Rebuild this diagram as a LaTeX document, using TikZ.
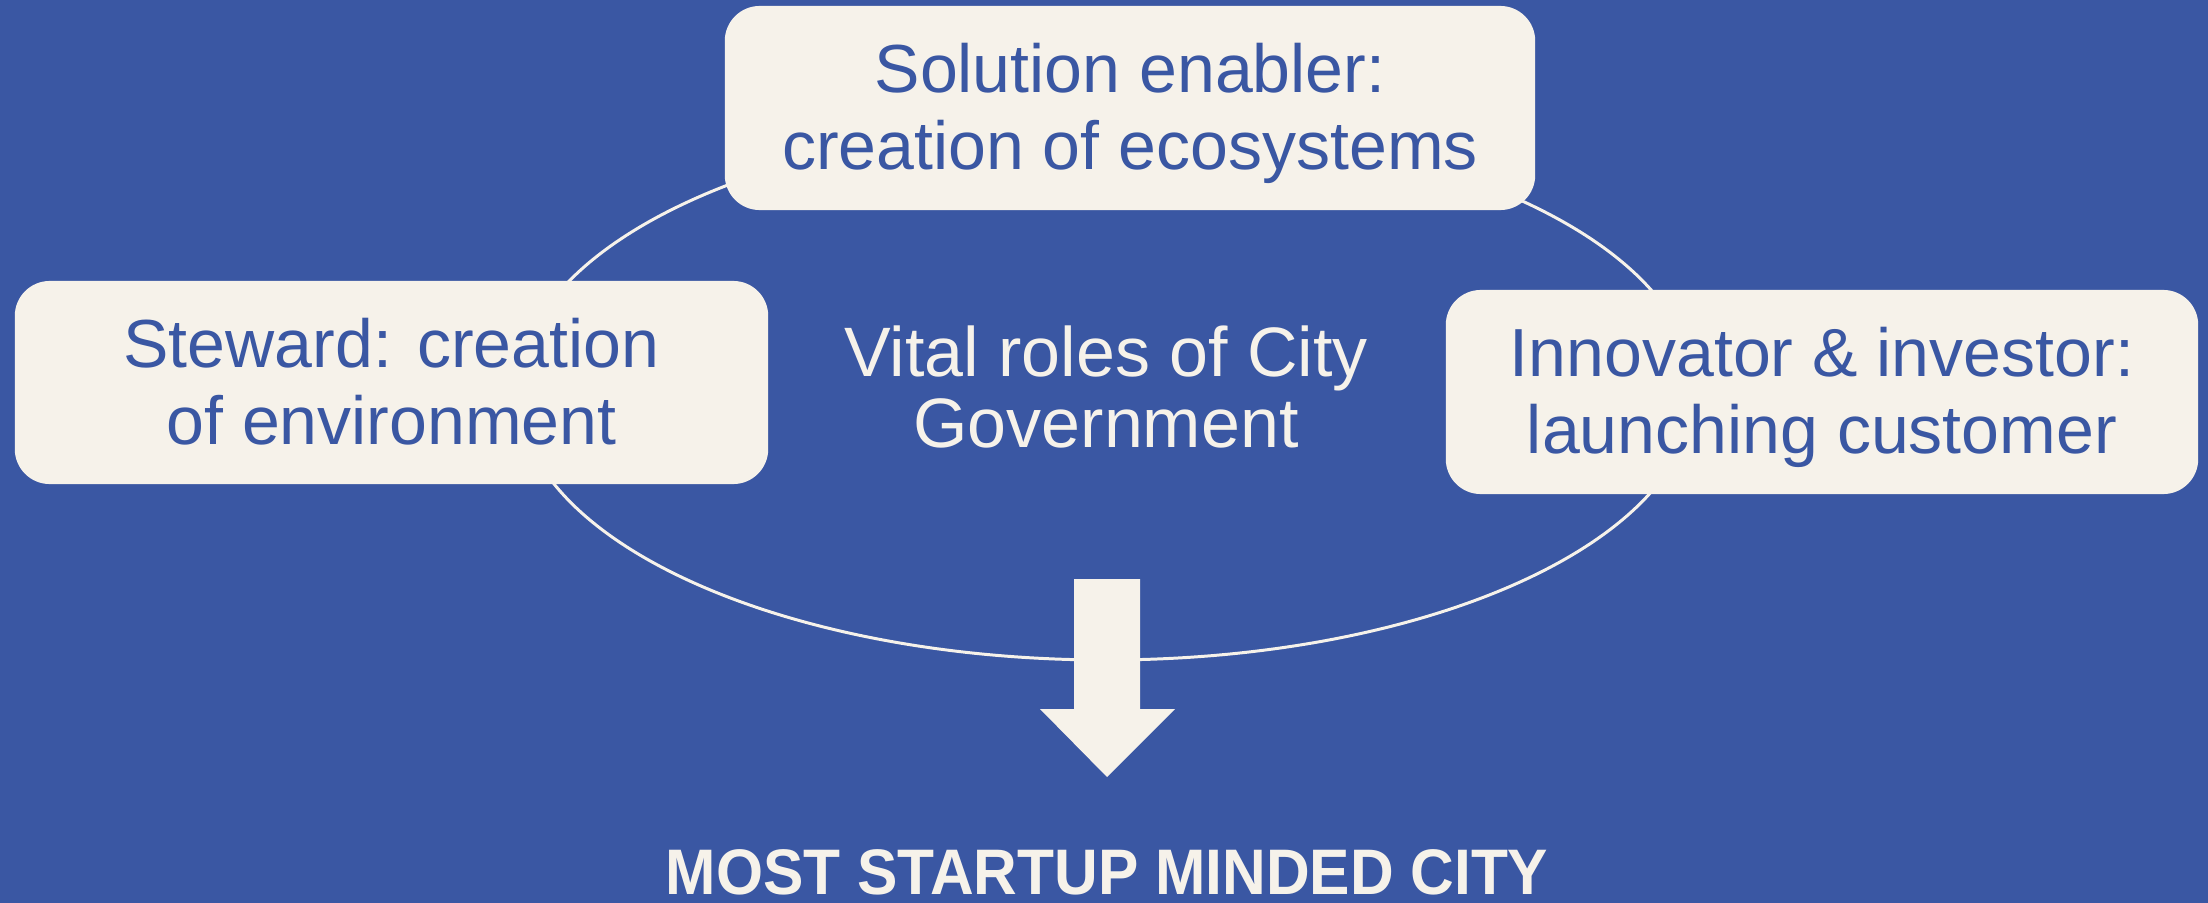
\documentclass[tikz,border=0pt]{standalone}
\usepackage{fontspec}
\setmainfont{Liberation Sans}
\usepackage{graphicx}
\definecolor{bgblue}{HTML}{3A57A3}
\definecolor{cream}{HTML}{F6F2EA}
\begin{document}
\begin{tikzpicture}[x=0.01cm,y=-0.01cm,
  box/.style={rectangle, rounded corners=3.5mm, fill=cream, inner sep=0pt},
  boxtxt/.style={text=bgblue, align=center, inner sep=0pt, font=\fontsize{19.35}{21.9}\selectfont},
  ctxt/.style={text=cream, align=center, inner sep=0pt, font=\fontsize{19.9}{20.2}\selectfont},
  ring/.style={draw=cream, line width=0.85pt},
  goaltxt/.style={text=cream, anchor=base, inner sep=0pt, font=\fontsize{18.3}{20}\selectfont\bfseries}]
\fill[bgblue] (0,0) rectangle (2208,903);
\useasboundingbox (0,0) rectangle (2208,903);
% ring
\draw[ring] (1106,391) ellipse [x radius=588, y radius=269];
% boxes
\node[box, minimum width=8.10cm, minimum height=2.04cm] (top) at (1130,108) {};
\node[box, minimum width=7.53cm, minimum height=2.03cm] (left) at (391.5,382.5) {};
\node[box, minimum width=7.52cm, minimum height=2.04cm] (right) at (1822,392) {};
% texts
\node[boxtxt] (toptxt) at (1130,113.8) {Solution enabler:\\creation of ecosystems};
\node[boxtxt] (lefttxt) at (391.5,381.7) {Steward: creation\\of environment};
\node[boxtxt] (righttxt) at (1822,397.8) {Innovator \& investor:\\launching customer};
\node[ctxt] (center) at (1106,387.3) {Vital roles of City\\Government};
% arrow
\fill[cream] (1074,579) -- (1140,579) -- (1140,709) -- (1175,709) -- (1107,777) -- (1040,709) -- (1074,709) -- cycle;
\node[goaltxt] (goal) at (1107,894) {\scalebox{0.94}[1]{MOST STARTUP MINDED CITY}};
\end{tikzpicture}
\end{document}
